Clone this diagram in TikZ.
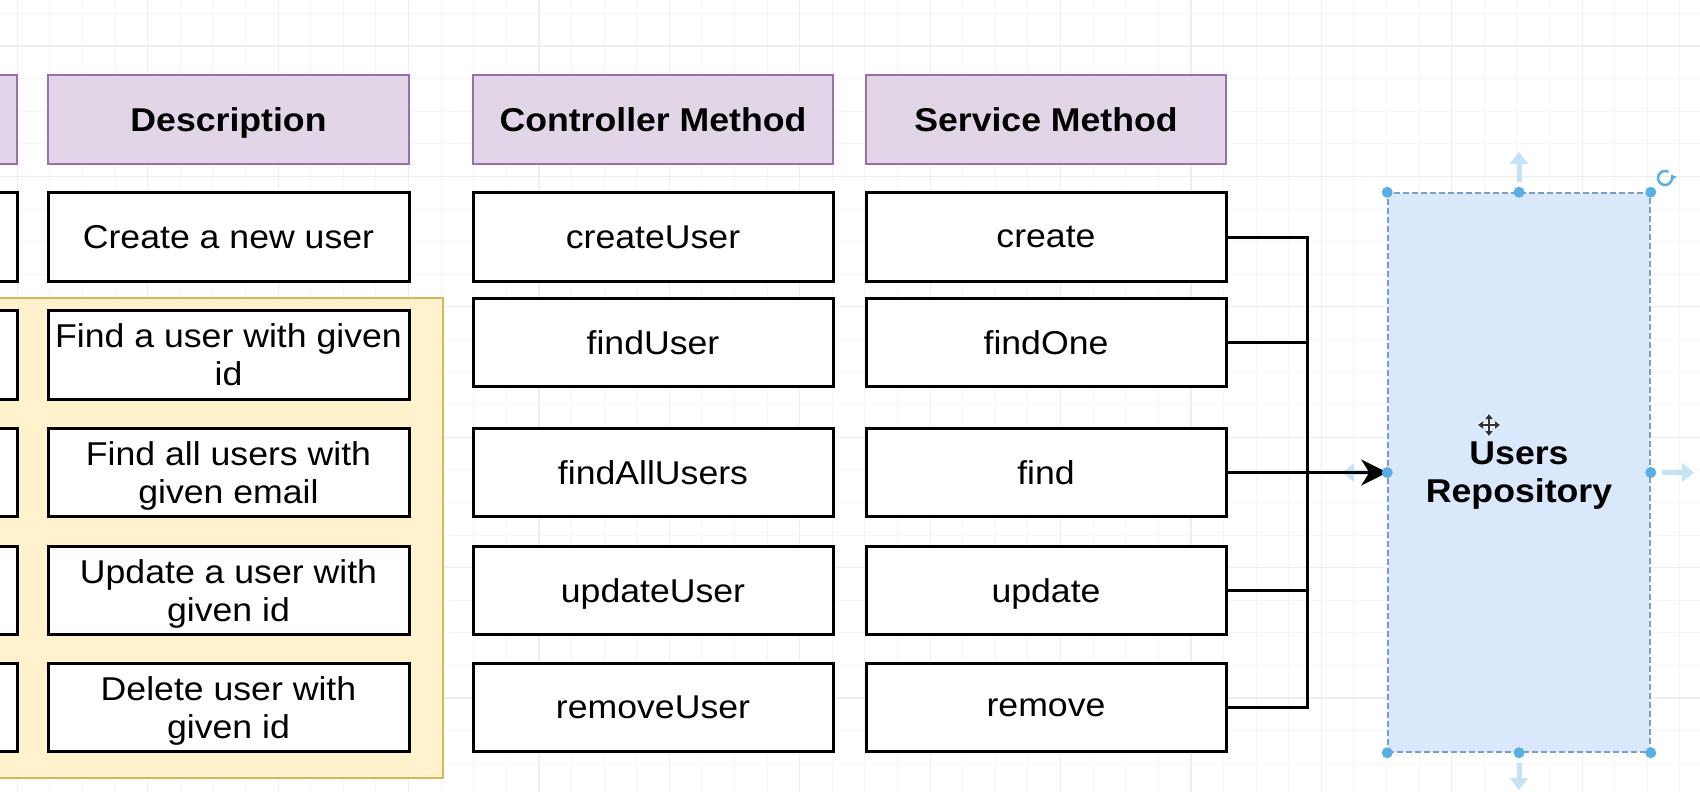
\documentclass[tikz,border=0pt]{standalone}
\usepackage{fontspec}
\setmainfont{Liberation Sans}[FakeStretch=1.08]
\usetikzlibrary{arrows.meta,calc}
\definecolor{purplefill}{HTML}{E1D5E7}
\definecolor{purpleline}{HTML}{9673A6}
\definecolor{yellowfill}{HTML}{FFF2CC}
\definecolor{yellowline}{HTML}{D6B656}
\definecolor{bluefill}{HTML}{DAE8FC}
\definecolor{blueline}{HTML}{7F9CC9}
\definecolor{handle}{HTML}{5AAEE6}
\definecolor{hint}{HTML}{C6E2F5}
\definecolor{gridminor}{HTML}{F6F6F6}
\definecolor{gridmajor}{HTML}{EEEEEE}
\newcommand\diagfont{\fontsize{33}{38}\selectfont}
\begin{document}
\begin{tikzpicture}[x=1pt,y=-1pt,
  hdr/.style={draw=purpleline,fill=purplefill,line width=2.5pt,minimum height=88.5pt,inner sep=0pt,text depth=0pt,font=\diagfont\bfseries,align=center},
  cell/.style={draw=black,fill=white,line width=3pt,minimum height=88.5pt,inner sep=0pt,text depth=0pt,font=\diagfont,align=center},
  conn/.style={draw=black,line width=3pt},
  minorgrid/.style={draw=gridminor,line width=1pt},
  majorgrid/.style={draw=gridmajor,line width=1.2pt},
  hnd/.style={fill=handle,draw=none},
  hintarrow/.style={draw=hint,line width=5pt,-{Triangle[length=12pt,width=18pt]}}
]
\useasboundingbox (0,0) rectangle (1700,792);
\clip (0,0) rectangle (1700,792);
\fill[white] (0,0) rectangle (1700,792);
% grid
\foreach \i in {0,...,52} {\draw[minorgrid] ({17.3+32.6*\i},0) -- ({17.3+32.6*\i},792);}
\foreach \i in {0,...,24} {\draw[minorgrid] (0,{13.4+32.6*\i}) -- (1700,{13.4+32.6*\i});}
\foreach \i in {0,...,13} {\draw[majorgrid] ({17.3+130.4*\i},0) -- ({17.3+130.4*\i},792);}
\foreach \i in {0,...,5} {\draw[majorgrid] (0,{46+130.4*\i}) -- (1700,{46+130.4*\i});}

% yellow group
\node[draw=yellowline,fill=yellowfill,line width=2.5pt,minimum width=500pt,minimum height=480pt,inner sep=0pt] (grp) at (193,538) {};

% column 0 (cut off)
\node[hdr,minimum width=217pt] (h0) at (-91.5,119.5) {};
\node[cell,minimum width=217pt] (c01) at (-91.5,237) {};
\node[cell,minimum width=217pt] (c02) at (-91.5,355) {};
\node[cell,minimum width=217pt] (c03) at (-91.5,472.5) {};
\node[cell,minimum width=217pt] (c04) at (-91.5,590.5) {};
\node[cell,minimum width=217pt] (c05) at (-91.5,707.5) {};

% description column
\node[hdr,minimum width=361pt] (hd) at (228.5,119.5) {Description};
\node[cell,minimum width=361pt] (d1) at (228.5,237) {Create a new user};
\node[cell,minimum width=361pt] (d2) at (228.5,355) {Find a user with given\\id};
\node[cell,minimum width=361pt] (d3) at (228.5,472.5) {Find all users with\\given email};
\node[cell,minimum width=361pt] (d4) at (228.5,590.5) {Update a user with\\given id};
\node[cell,minimum width=361pt] (d5) at (228.5,707.5) {Delete user with\\given id};

% controller column
\node[hdr,minimum width=360pt] (hc) at (653,119.5) {Controller Method};
\node[cell,minimum width=360pt] (k1) at (653,237) {createUser};
\node[cell,minimum width=360pt] (k2) at (653,342.5) {findUser};
\node[cell,minimum width=360pt] (k3) at (653,472.5) {findAllUsers};
\node[cell,minimum width=360pt] (k4) at (653,590.5) {updateUser};
\node[cell,minimum width=360pt] (k5) at (653,707.5) {removeUser};

% service column
\node[hdr,minimum width=360pt] (hs) at (1046,119.5) {Service Method};
\node[cell,minimum width=360pt] (s1) at (1046,237) {create};
\node[cell,minimum width=360pt] (s2) at (1046,342.5) {findOne};
\node[cell,minimum width=360pt] (s3) at (1046,472.5) {find};
\node[cell,minimum width=360pt] (s4) at (1046,590.5) {update};
\node[cell,minimum width=360pt] (s5) at (1046,707.5) {remove};

% repository
\node[fill=bluefill,draw=blueline,dashed,dash pattern=on 6pt off 3pt,line width=1.5pt,minimum width=262pt,minimum height=559pt,inner sep=0pt,text depth=0pt,font=\diagfont\bfseries,align=center] (repo) at (1519,472.5) {Users\\Repository};

% connectors
\coordinate (bus) at (1307,472.5);
\draw[conn] (s1.east) -| (bus);
\draw[conn] (s5.east) -| (bus);
\draw[conn] (s2.east) -- (s2.east -| bus);
\draw[conn] (s4.east) -- (s4.east -| bus);

% hint arrows around the selected shape
\draw[hintarrow] (1519,182) -- (1519,152);
\draw[hintarrow] (1519,763) -- (1519,790);
\draw[hintarrow] (1662,472.5) -- (1694,472.5);
\draw[hintarrow] (1372,472.5) -- (1342,472.5);

\draw[conn,-{Stealth[length=26pt,width=26pt,inset=8pt]}] (s3.east) -- (repo.west);

% selection handles
\foreach \p in {north west,north,north east,west,east,south west,south,south east}
  {\fill[hnd] (repo.\p) circle (5.5pt);}
% rotate icon
\draw[handle,line width=2.5pt,-{Triangle[length=5pt,width=7pt]}] (1665,178) ++(60:7pt) arc[start angle=60,end angle=390,radius=7pt];

% move cursor
\begin{scope}[shift={(1489,425)}]
  \draw[white,line width=4.5pt] (-11,0) -- (11,0) (0,-11) -- (0,11);
  \draw[black!80,line width=2pt,{Triangle[length=5pt,width=7pt]}-{Triangle[length=5pt,width=7pt]}] (-11,0) -- (11,0);
  \draw[black!80,line width=2pt,{Triangle[length=5pt,width=7pt]}-{Triangle[length=5pt,width=7pt]}] (0,-11) -- (0,11);
\end{scope}
\end{tikzpicture}
\end{document}
